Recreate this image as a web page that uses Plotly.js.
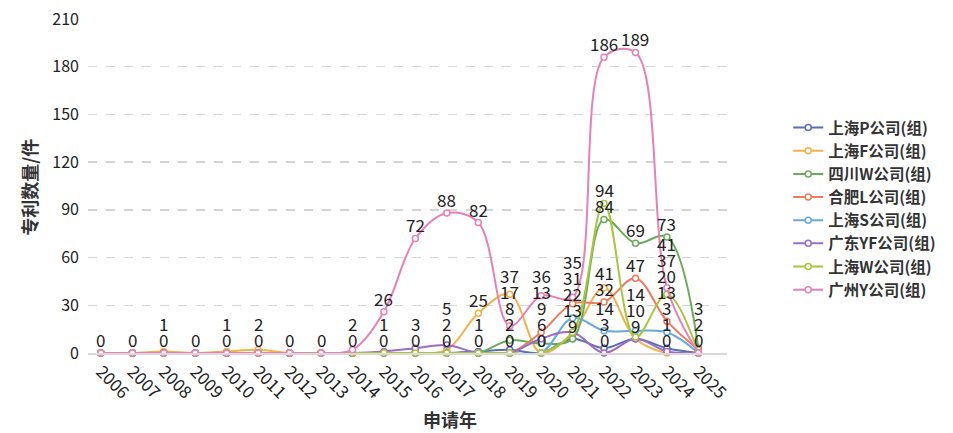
<!DOCTYPE html>
<html>
<head>
<meta charset="utf-8">
<script src="https://cdn.plot.ly/plotly-3.0.1.min.js"></script>
<style>html,body{margin:0;padding:0;background:#fff;}#chart{width:953px;height:433px;}</style>
</head>
<body>
<div id="chart"></div>
<script>
const years = ['2006','2007','2008','2009','2010','2011','2012','2013','2014','2015','2016','2017','2018','2019','2020','2021','2022','2023','2024','2025'];
const seriesNames = ['上海P公司(组)','上海F公司(组)','四川W公司(组)','合肥L公司(组)','上海S公司(组)','广东YF公司(组)','上海W公司(组)','广州Y公司(组)'];
const shanghaiP  = [0,0,0,0,0,0,0,0,0,0,0,0,1,2,0,9,3,9,3,0];
const shanghaiF  = [0,0,1,0,1,2,0,0,0,0,0,2,25,37,0,13,41,9,0,0];
const sichuanW   = [0,0,0,0,0,0,0,0,0,0,0,0,0,8,6,9,84,69,73,3];
const hefeiL     = [0,0,0,0,0,0,0,0,0,0,0,0,0,0,13,31,32,47,20,2];
const shanghaiS  = [0,0,0,0,0,0,0,0,0,0,0,0,0,0,0,22,14,14,13,0];
const guangdongYF= [0,0,0,0,0,0,0,0,0,1,3,5,0,0,9,13,0,9,1,0];
const shanghaiW  = [0,0,0,0,0,0,0,0,0,0,0,0,0,0,0,13,94,10,37,0];
const guangzhouY = [0,0,0,0,0,0,0,0,2,26,72,88,82,17,36,35,186,189,41,0];
const yTicks = [0,30,60,90,120,150,180,210];

const allSeries = [shanghaiP,shanghaiF,sichuanW,hefeiL,shanghaiS,guangdongYF,shanghaiW,guangzhouY];
const colors = ['#5b6fae','#f1b24a','#69ad5b','#ec7b5d','#66aadb','#9b6bc6','#aac43e','#e880b3'];
const font = '"Noto Sans CJK SC", "Noto Sans", sans-serif';

const traces = allSeries.map((vals,i)=>({
  type:'scatter', mode:'lines+markers', name: seriesNames[i],
  x: years, y: vals, cliponaxis:false,
  line:{color:colors[i], width:2, shape:'spline', smoothing:1},
  marker:{symbol:'circle', size:6, color:'#fff', line:{color:colors[i], width:1.5}}
}));

// layout geometry
const M = {l:88, r:218, t:19, b:80};
const plotW = 953 - M.l - M.r;
const plotH = 433 - M.t - M.b;
const yMax = 210;
const ppu = plotH / yMax;
const xRange = [-0.41, 19.91];

// value labels: unique values per year, stacked upward to avoid overlap
const annotations = [];
years.forEach((yr,j)=>{
  const vals = [...new Set(allSeries.map(s=>s[j]))].sort((a,b)=>a-b);
  let prev = null;
  vals.forEach(v=>{
    const yp = -v*ppu;            // point pixel offset from zero line (up = negative)
    let c = yp - 14;
    if (prev !== null && c > prev - 16) c = prev - 16;
    prev = c;
    annotations.push({x:(j - xRange[0])/(xRange[1]-xRange[0]), y:v/yMax, xref:'paper', yref:'paper',
      text:String(v), showarrow:false, borderpad:0, height:16, valign:'middle',
      yanchor:'middle', xanchor:'center', yshift:yp - c, font:{family:font, size:17, color:'#222'}});
  });
});
annotations.push({xref:'paper', yref:'paper', x:(455-M.l)/plotW, y:(353-419)/plotH,
  text:'<b>申请年</b>', showarrow:false, xanchor:'center', yanchor:'middle', font:{family:font, size:18, color:'#333'}});
annotations.push({xref:'paper', yref:'paper', x:(28-M.l)/plotW, y:(353-187)/plotH,
  text:'<b>专利数量/件</b>', textangle:-90, showarrow:false, xanchor:'center', yanchor:'middle', font:{family:font, size:18, color:'#333'}});

const layout = {
  width:953, height:433, margin:M, paper_bgcolor:'#fff', plot_bgcolor:'#fff',
  font:{family:font, color:'#333'},
  showlegend:true,
  legend:{x:(797-M.l)/plotW, y:(353-111)/plotH, xanchor:'left', yanchor:'top',
    font:{family:font, size:15.5, color:'#333', weight:'bold'}, itemwidth:30, bgcolor:'rgba(0,0,0,0)'},
  xaxis:{type:'category', categoryarray:years, range:xRange, showgrid:false, zeroline:false,
    showline:true, linecolor:'#d9d9d9', linewidth:2, ticks:'', tickangle:45,
    tickfont:{family:font, size:17, color:'#222'}},
  yaxis:{range:[0,yMax], tickvals:yTicks, showgrid:true, gridcolor:'#d4d4d4', griddash:'dash', gridwidth:1.5,
    zeroline:false, showline:false, ticks:'', ticklabelstandoff:8,
    tickfont:{family:font, size:16, color:'#222'}},
  annotations: annotations
};
Plotly.newPlot('chart', traces, layout, {displayModeBar:false, staticPlot:true});
</script>
</body>
</html>
